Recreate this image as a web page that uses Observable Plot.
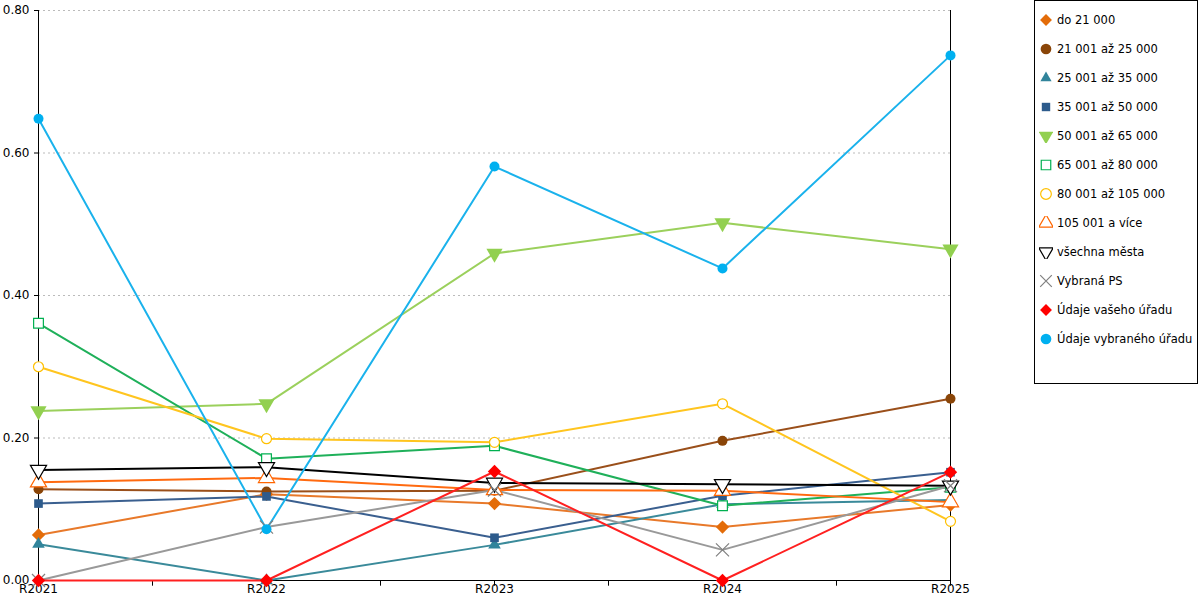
<!DOCTYPE html>
<html><head><meta charset="utf-8">
<script src="https://cdn.jsdelivr.net/npm/d3@7"></script>
<script src="https://cdn.jsdelivr.net/npm/@observablehq/plot@0.6"></script>
<style>
body{margin:0;font-family:"DejaVu Sans",sans-serif;background:#fff;}
#wrap{position:relative;width:1200px;height:600px;}
#legend{position:absolute;left:1034px;top:0;width:164px;height:384px;border:1px solid #000;box-sizing:border-box;font-size:11.5px;padding-top:4px;}
.li{display:flex;align-items:center;height:29px;white-space:nowrap;}
.li svg{margin-left:4px;margin-right:4px;flex:none;}
</style></head><body>
<div id="wrap"><div id="chart"></div><div id="legend"></div></div>
<script>
const years = ["R2021","R2022","R2023","R2024","R2025"];
const names = ["do 21 000","21 001 až 25 000","25 001 až 35 000","35 001 až 50 000","50 001 až 65 000","65 001 až 80 000","80 001 až 105 000","105 001 a více","všechna města","Vybraná PS","Údaje vašeho úřadu","Údaje vybraného úřadu"];
const values = [
 [0.064,0.121,0.108,0.075,0.106],
 [0.128,0.125,0.126,0.196,0.255],
 [0.051,0.000,0.050,0.107,0.113],
 [0.108,0.118,0.060,0.119,0.152],
 [0.238,0.248,0.459,0.502,0.465],
 [0.361,0.171,0.189,0.105,0.131],
 [0.300,0.199,0.194,0.248,0.083],
 [0.138,0.144,0.127,0.126,0.110],
 [0.155,0.159,0.137,0.135,0.133],
 [0.000,0.075,0.127,0.043,0.133],
 [0.000,0.000,0.153,0.000,0.152],
 [0.648,0.072,0.581,0.438,0.737]
];
const lineColors = ["#e8792a","#9a4f1a","#3a8a9a","#3a5f8f","#9bd05c","#1fb05a","#ffc51f","#ff6a10","#000000","#999999","#ff2020","#1ab2ec"];
const markColors = ["#e36c09","#8a4508","#31849b","#2d5b8c","#92d050","#00b050","#ffc000","#ff6600","#000000","#808080","#ff0000","#00b0f0"];
const filled = [true,true,true,true,true,false,false,false,false,false,true,true];
const triDown = {draw(ctx,size){const s=Math.sqrt(size/(Math.sqrt(3)/4)); const h=s*Math.sqrt(3)/2; ctx.moveTo(-s/2,-h/3); ctx.lineTo(s/2,-h/3); ctx.lineTo(0,2*h/3); ctx.closePath();}};
const symbols = ["diamond2","circle","triangle2","square2",triDown,"square","circle","triangle",triDown,"times","diamond2","circle"];

const data = [];
names.forEach((n,i)=>values[i].forEach((v,j)=>data.push({series:n,i,xi:j,v})));

const marks = [
  Plot.gridY([0.2,0.4,0.6,0.8],{stroke:"#bbb",strokeOpacity:1,strokeDasharray:"2,3"}),
  Plot.axisY({ticks:[0,0.2,0.4,0.6,0.8],tickFormat:d3.format(".2f"),tickSize:4,fontSize:12,label:null}),
  Plot.axisX({ticks:[0,1,2,3,4],tickFormat:d=>years[d],tickSize:0,fontSize:12,label:null,tickPadding:4}),
  Plot.ruleX([0,0.5,1,1.5,2,2.5,3,3.5,4],{x:d=>d,y1:0,y2:-0.008,stroke:"#000",clip:false}),
  Plot.ruleY([0],{stroke:"#000"}),
  Plot.ruleX([0],{stroke:"#000"}),
  Plot.ruleX([4],{stroke:"#000"})
];
names.forEach((n,i)=>{
  const d = data.filter(r=>r.i===i);
  marks.push(Plot.line(d,{x:"xi",y:"v",stroke:lineColors[i],strokeWidth:2}));
});
names.forEach((n,i)=>{
  const d = data.filter(r=>r.i===i);
  const sym = symbols[i];
  const r = (sym==="circle")?5:(sym==="square"||sym==="square2")?5.5:6;
  marks.push(Plot.dot(d,{x:"xi",y:"v",symbol:()=>sym,r,
    fill: filled[i]?markColors[i]:"white", stroke: filled[i]?"none":markColors[i], strokeWidth:1.2}));
});

const chart = Plot.plot({
  width:1000,height:600,marginLeft:38,marginRight:50,marginTop:10,marginBottom:20,
  style:{fontFamily:"DejaVu Sans, sans-serif",fontSize:"12px",overflow:"visible"},
  x:{domain:[0,4],axis:null},
  y:{domain:[0,0.8],axis:null},
  symbol:{type:"identity"},
  marks
});
document.getElementById("chart").appendChild(chart);

const leg = d3.select("#legend");
names.forEach((n,i)=>{
  const row = leg.append("div").attr("class","li");
  const svg = row.append("svg").attr("width",14).attr("height",14);
  const sym = symbols[i];
  const map = {diamond2:d3.symbolDiamond2,circle:d3.symbolCircle,triangle2:d3.symbolTriangle2,square2:d3.symbolSquare2,square:d3.symbolSquare,triangle:d3.symbolTriangle,times:d3.symbolTimes};
  const s = typeof sym==="string"?map[sym]:sym;
  svg.append("path").attr("transform","translate(7,7)")
    .attr("d",d3.symbol(s, 90)())
    .attr("fill",filled[i]?markColors[i]:"white").attr("stroke",filled[i]?"none":markColors[i]).attr("stroke-width",1.2);
  row.append("span").text(n);
});
</script></body></html>
